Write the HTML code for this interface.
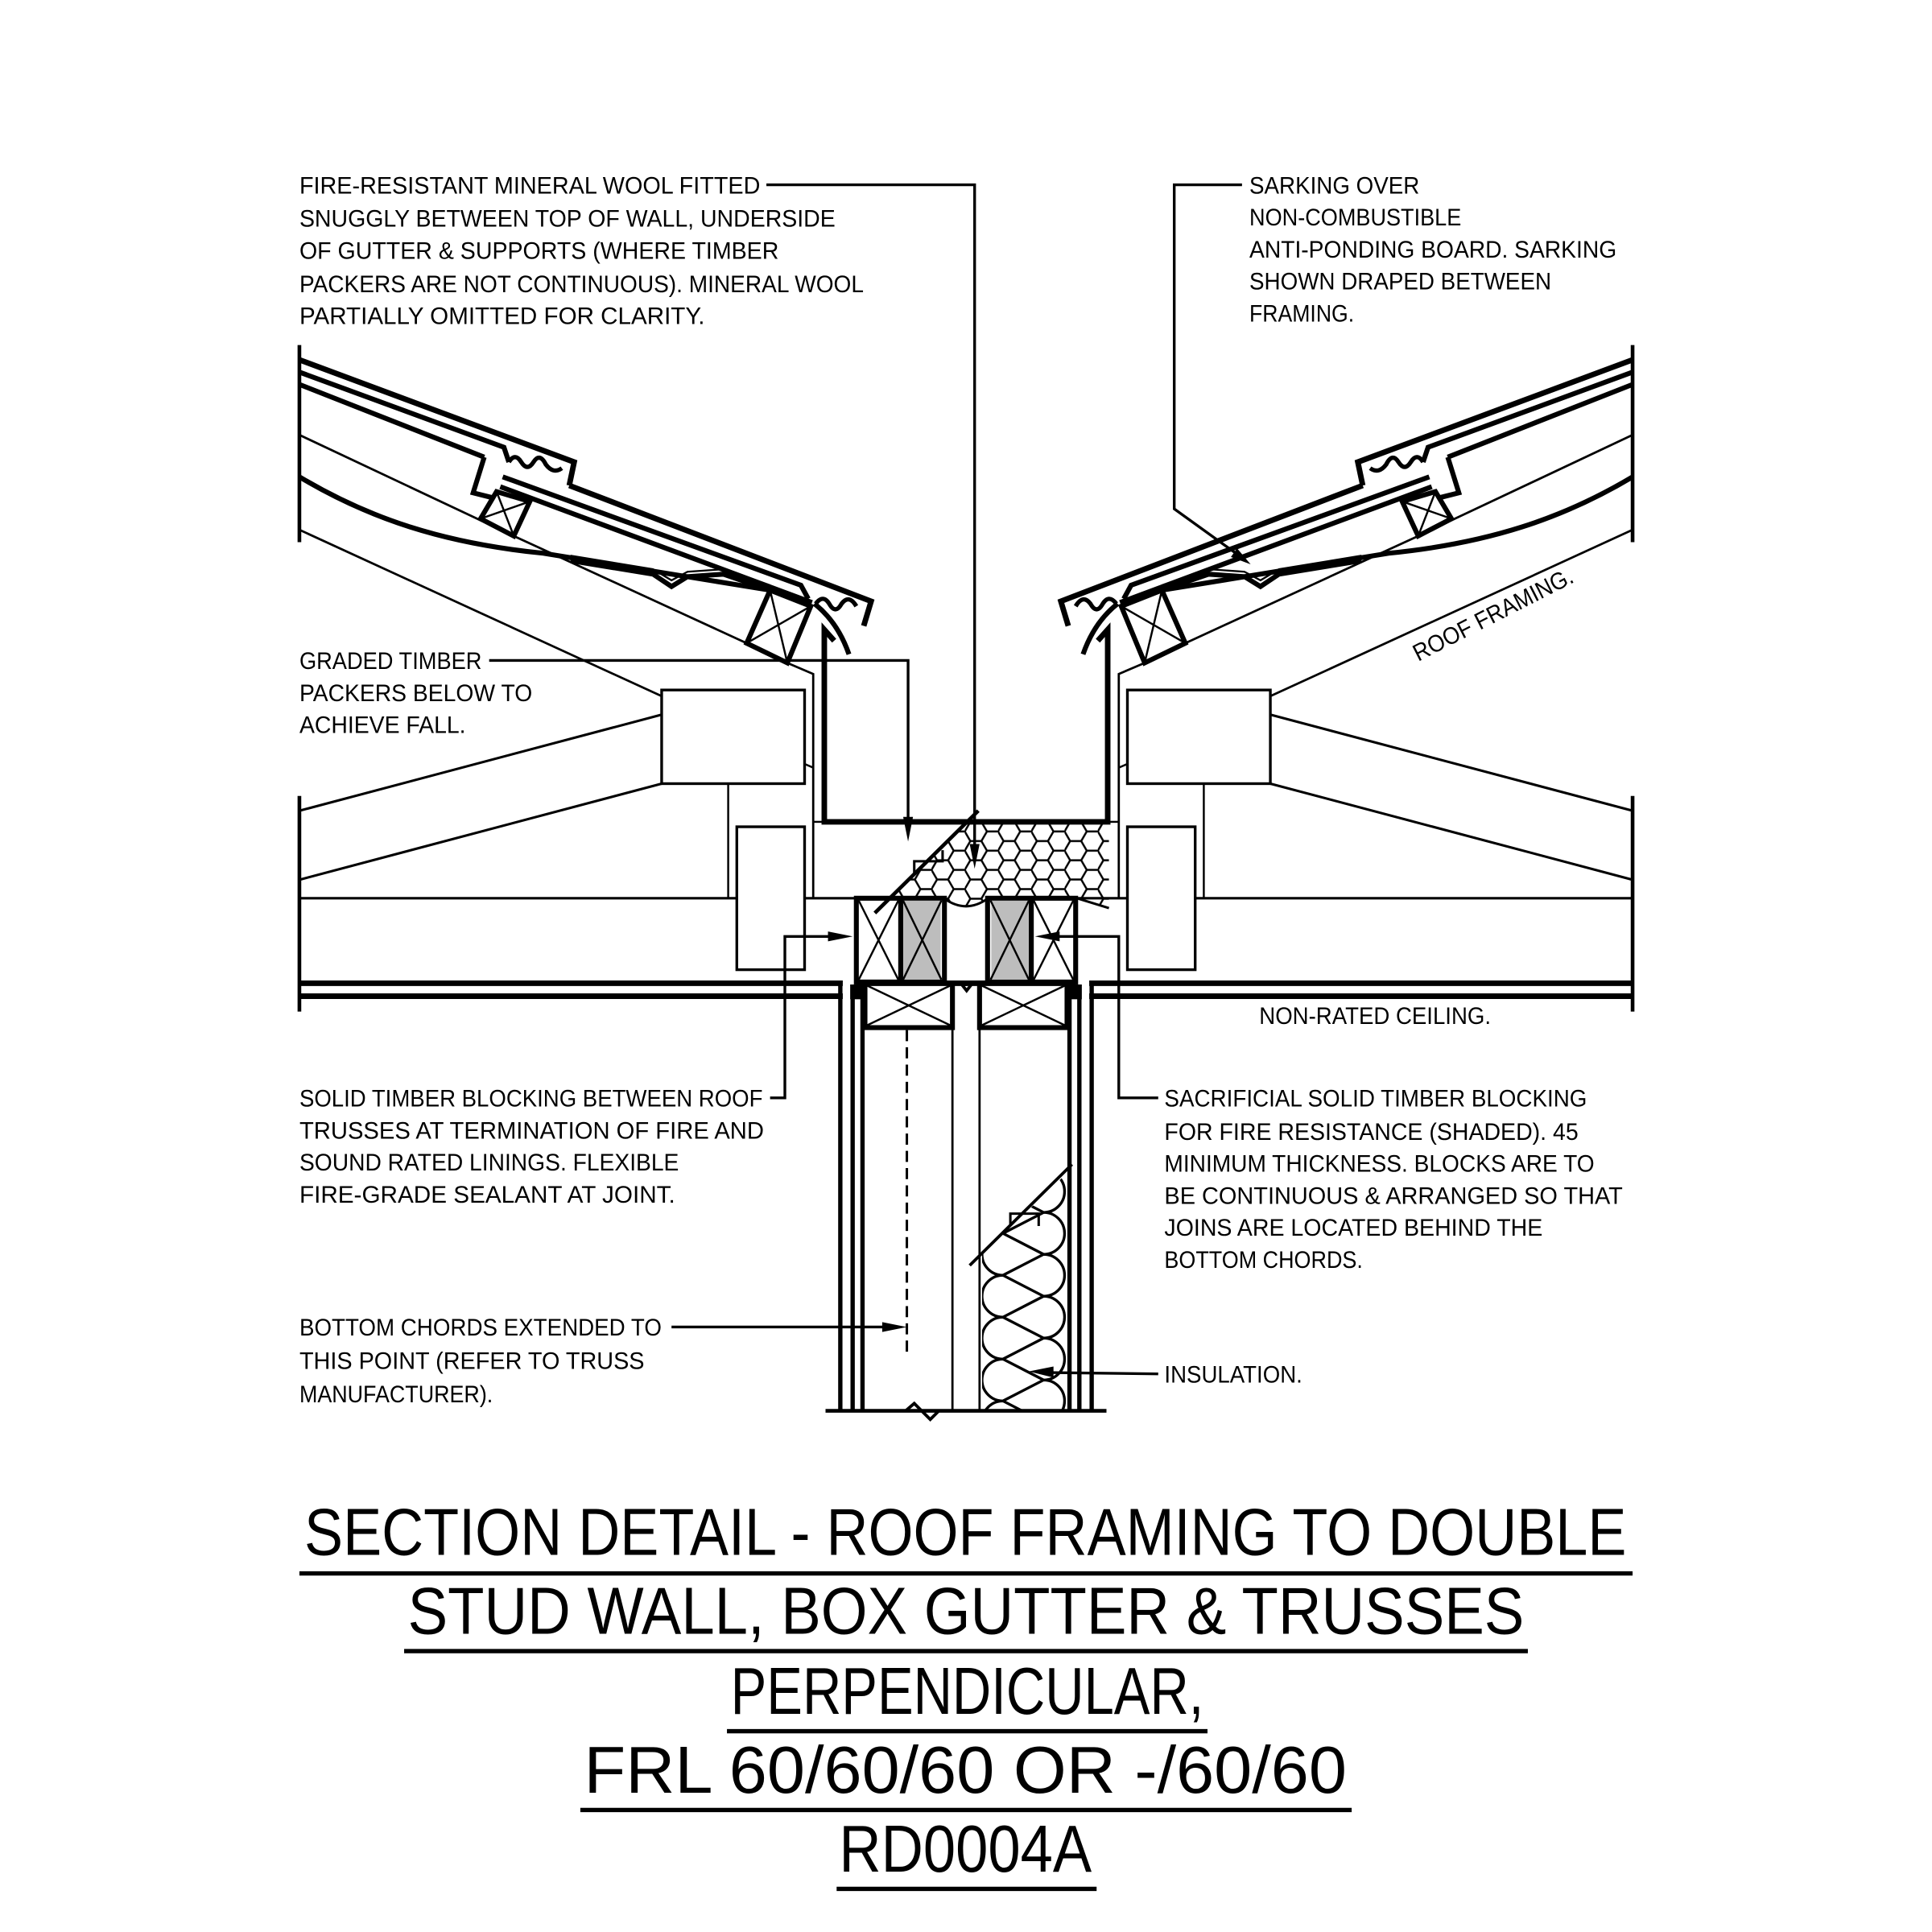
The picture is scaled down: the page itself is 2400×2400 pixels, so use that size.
<!DOCTYPE html>
<html><head><meta charset="utf-8"><style>
html,body{margin:0;padding:0;background:#fff;}
svg{display:block;}
text{font-family:"Liberation Sans",sans-serif;fill:#000;}
.t{font-size:19.5px;}
.h{font-size:54px;}
</style></head><body>
<svg width="2400" height="2400" viewBox="0 0 1568 1568" xmlns="http://www.w3.org/2000/svg">
<defs>
<pattern id="hex" patternUnits="userSpaceOnUse" width="27" height="15.6" x="0" y="667">
<path d="M0,7.8 L4.5,0 L13.5,0 L18,7.8 L13.5,15.6 L4.5,15.6 Z M18,7.8 L27,7.8" fill="none" stroke="#000" stroke-width="1.6"/>
</pattern>
<clipPath id="insclip"><polygon points="797,1018 866,952 866,1145 797,1145"/></clipPath>
<g id="half" fill="none" stroke="#000" stroke-linejoin="miter">
  <line x1="243" y1="280" x2="243" y2="440" stroke-width="3"/>
  <line x1="243" y1="646" x2="243" y2="821" stroke-width="3"/>
  <polyline points="243,292 466,375 462,394" stroke-width="4.5"/>
  <polyline points="462,394 707,488 701,508" stroke-width="4.5"/>
  <polyline points="243,302 409,363 413,375" stroke-width="4"/>
  <path d="M413,375 q5,-8 10,0 q5,8 10,0 q5,-8 10,2 q6,8 13,3" stroke-width="3.5"/>
  <line x1="243" y1="312" x2="393" y2="371" stroke-width="4"/>
  <polyline points="393,371 384,400 400,404" stroke-width="4"/>
  <polyline points="408,387 650,475 656,486" stroke-width="4"/>
  <line x1="406" y1="395" x2="659" y2="489" stroke-width="4"/>
  <path d="M662,490 q6,-8 11,0 q5,9 10,0 q6,-8 12,2" stroke-width="3.5"/>
  <polygon points="390,421 403,399 430,407 417,435" stroke-width="4"/>
  <line x1="390" y1="421" x2="430" y2="407" stroke-width="1.6"/>
  <line x1="403" y1="399" x2="417" y2="435" stroke-width="1.6"/>
  <polygon points="606,522 625,479 658,492 639,538" stroke-width="4"/>
  <line x1="606" y1="522" x2="658" y2="492" stroke-width="1.6"/>
  <line x1="625" y1="479" x2="639" y2="538" stroke-width="1.6"/>
  <line x1="243" y1="353" x2="417" y2="435" stroke-width="1.8"/>
  <line x1="417" y1="435" x2="606" y2="522" stroke-width="1.8"/>
  <polyline points="639,538 660,547 660,729" stroke-width="1.8"/>
  <line x1="243" y1="430" x2="537" y2="565" stroke-width="1.8"/>
  <path d="M243,387 C300,421 360,441 441,449 L625,479" stroke-width="4"/>
  <polyline points="463,455 530,466 545,476 558,468 587,466 625,479" stroke-width="4"/>
  <polyline points="463,451 530,462 545,471 558,464 587,462 625,475" stroke-width="1.5"/>
  <path d="M661,490 Q680,505 689,531" stroke-width="4"/>
  <polyline points="677,520 669,511 669,667 785,667" stroke-width="4.5"/>
  <rect x="537" y="560" width="116" height="76" stroke-width="2.2"/>
  <rect x="598" y="671" width="55" height="116" stroke-width="2.2"/>
  <line x1="591" y1="636" x2="591" y2="729" stroke-width="1.6"/>
  <line x1="653" y1="620" x2="660" y2="623" stroke-width="1.6"/>
  <line x1="660" y1="667" x2="669" y2="667" stroke-width="1.6"/>
  <line x1="243" y1="658" x2="537" y2="580" stroke-width="2"/>
  <line x1="243" y1="714" x2="537" y2="636" stroke-width="2"/>
  <line x1="243" y1="729" x2="598" y2="729" stroke-width="2"/>
  <line x1="653" y1="729" x2="695" y2="729" stroke-width="2"/>
  <line x1="243" y1="798" x2="684" y2="798" stroke-width="4.5"/>
  <line x1="243" y1="808.5" x2="684" y2="808.5" stroke-width="4.5"/>
  <rect x="695" y="729" width="71.5" height="68" fill="#fff" stroke-width="4"/>
  <rect x="732.5" y="731" width="31" height="64" fill="#bdbdbd" stroke="none"/>
  <line x1="731" y1="729" x2="731" y2="797" stroke-width="4"/>
  <line x1="697" y1="731" x2="729" y2="795" stroke-width="1.6"/>
  <line x1="729" y1="731" x2="697" y2="795" stroke-width="1.6"/>
  <line x1="733" y1="731" x2="764" y2="795" stroke-width="1.6"/>
  <line x1="764" y1="731" x2="733" y2="795" stroke-width="1.6"/>
  <line x1="695" y1="798" x2="785" y2="798" stroke-width="4.5"/>
  <rect x="702" y="798" width="71" height="36" stroke-width="4"/>
  <line x1="704" y1="800" x2="771" y2="832" stroke-width="1.6"/>
  <line x1="771" y1="800" x2="704" y2="832" stroke-width="1.6"/>
  <line x1="682" y1="800" x2="682" y2="1145" stroke-width="3.5"/>
  <line x1="692" y1="800" x2="692" y2="1145" stroke-width="3.5"/>
  <line x1="700" y1="800" x2="700" y2="1145" stroke-width="3.5"/>
  <rect x="690" y="799" width="12" height="12" fill="#000" stroke="none"/>
  <line x1="773" y1="834" x2="773" y2="1145" stroke-width="1.8"/>
</g>
</defs>

<use href="#half"/>
<use href="#half" transform="translate(1568,0) scale(-1,1)"/>

<path d="M714,737 L786,667 L900,667 L900,737 L874,729 L802,729 Q784,742 766,729 L722,729 Z" fill="url(#hex)" stroke="none"/>
<path d="M874,729 L900,737 M802,729 Q784,742 766,729" fill="none" stroke="#000" stroke-width="2"/>
<line x1="710" y1="741" x2="794" y2="658" stroke="#000" stroke-width="3"/>
<polyline points="742,709 742,699 765,699 765,690" fill="none" stroke="#000" stroke-width="2"/>
<polyline points="771,797 779,797 784.5,804 790,797 797,797" fill="none" stroke="#000" stroke-width="2.5"/>
<line x1="670" y1="1145" x2="898" y2="1145" stroke="#000" stroke-width="3"/>
<polyline points="735,1145 742,1139 755,1152 762,1145" fill="none" stroke="#000" stroke-width="2.5"/>
<line x1="736" y1="836" x2="736" y2="1098" stroke="#000" stroke-width="2" stroke-dasharray="9,5"/>
<g clip-path="url(#insclip)" fill="none" stroke="#000" stroke-width="2.2">
<path d="M847,950 A17 17 0 0 1 847,984 L814,967 A17 17 0 0 0 814,1001 L847,984 A17 17 0 0 1 847,1018 L814,1001 A17 17 0 0 0 814,1035 L847,1018 A17 17 0 0 1 847,1052 L814,1035 A17 17 0 0 0 814,1069 L847,1052 A17 17 0 0 1 847,1086 L814,1069 A17 17 0 0 0 814,1103 L847,1086 A17 17 0 0 1 847,1120 L814,1103 A17 17 0 0 0 814,1137 L847,1120 A17 17 0 0 1 847,1154 L814,1137 A17 17 0 0 0 814,1171"/>
</g>
<line x1="787" y1="1027" x2="870" y2="945" stroke="#000" stroke-width="2.5"/>
<polyline points="820,995 820,985 843,985 843,995" fill="none" stroke="#000" stroke-width="2"/>

<g fill="none" stroke="#000" stroke-width="2.2">
<polyline points="622,150 791,150 791,690"/>
<polyline points="1008,150 953,150 953,413 1003,449"/>
<polyline points="397,536 737,536 737,668"/>
<polyline points="625,891 637,891 637,760 676,760"/>
<polyline points="940,891 908,891 908,760 855,760"/>
<line x1="545" y1="1077" x2="720" y2="1077"/>
<line x1="940" y1="1115" x2="852" y2="1114"/>
</g>
<g fill="#000">
<polygon points="791,705 787,685 795,685"/>
<polygon points="1015,458 999,452 1004,445"/>
<polygon points="737,683 733,663 741,663"/>
<polygon points="692,760 672,756 672,764"/>
<polygon points="840,760 860,756 860,764"/>
<polygon points="736,1077 716,1073 716,1081"/>
<polygon points="835,1113 855,1109 855,1118"/>
</g>

<g class="t">
<text x="243" y="157" textLength="374" lengthAdjust="spacingAndGlyphs">FIRE-RESISTANT MINERAL WOOL FITTED</text>
<text x="243" y="184" textLength="435" lengthAdjust="spacingAndGlyphs">SNUGGLY BETWEEN TOP OF WALL, UNDERSIDE</text>
<text x="243" y="210" textLength="389" lengthAdjust="spacingAndGlyphs">OF GUTTER &amp; SUPPORTS (WHERE TIMBER</text>
<text x="243" y="237" textLength="458" lengthAdjust="spacingAndGlyphs">PACKERS ARE NOT CONTINUOUS). MINERAL WOOL</text>
<text x="243" y="263" textLength="329" lengthAdjust="spacingAndGlyphs">PARTIALLY OMITTED FOR CLARITY.</text>
<text x="1014" y="157" textLength="138" lengthAdjust="spacingAndGlyphs">SARKING OVER</text>
<text x="1014" y="183" textLength="172" lengthAdjust="spacingAndGlyphs">NON-COMBUSTIBLE</text>
<text x="1014" y="209" textLength="298" lengthAdjust="spacingAndGlyphs">ANTI-PONDING BOARD. SARKING</text>
<text x="1014" y="235" textLength="245" lengthAdjust="spacingAndGlyphs">SHOWN DRAPED BETWEEN</text>
<text x="1014" y="261" textLength="85" lengthAdjust="spacingAndGlyphs">FRAMING.</text>
<text x="243" y="543" textLength="148" lengthAdjust="spacingAndGlyphs">GRADED TIMBER</text>
<text x="243" y="569" textLength="189" lengthAdjust="spacingAndGlyphs">PACKERS BELOW TO</text>
<text x="243" y="595" textLength="135" lengthAdjust="spacingAndGlyphs">ACHIEVE FALL.</text>
<text x="0" y="0" textLength="143" lengthAdjust="spacingAndGlyphs" transform="translate(1151,537) rotate(-27)">ROOF FRAMING.</text>
<text x="1022" y="831" textLength="188" lengthAdjust="spacingAndGlyphs">NON-RATED CEILING.</text>
<text x="243" y="898" textLength="376" lengthAdjust="spacingAndGlyphs">SOLID TIMBER BLOCKING BETWEEN ROOF</text>
<text x="243" y="924" textLength="377" lengthAdjust="spacingAndGlyphs">TRUSSES AT TERMINATION OF FIRE AND</text>
<text x="243" y="950" textLength="308" lengthAdjust="spacingAndGlyphs">SOUND RATED LININGS. FLEXIBLE</text>
<text x="243" y="976" textLength="305" lengthAdjust="spacingAndGlyphs">FIRE-GRADE SEALANT AT JOINT.</text>
<text x="945" y="898" textLength="343" lengthAdjust="spacingAndGlyphs">SACRIFICIAL SOLID TIMBER BLOCKING</text>
<text x="945" y="925" textLength="336" lengthAdjust="spacingAndGlyphs">FOR FIRE RESISTANCE (SHADED). 45</text>
<text x="945" y="951" textLength="349" lengthAdjust="spacingAndGlyphs">MINIMUM THICKNESS. BLOCKS ARE TO</text>
<text x="945" y="977" textLength="372" lengthAdjust="spacingAndGlyphs">BE CONTINUOUS &amp; ARRANGED SO THAT</text>
<text x="945" y="1003" textLength="307" lengthAdjust="spacingAndGlyphs">JOINS ARE LOCATED BEHIND THE</text>
<text x="945" y="1029" textLength="161" lengthAdjust="spacingAndGlyphs">BOTTOM CHORDS.</text>
<text x="243" y="1084" textLength="294" lengthAdjust="spacingAndGlyphs">BOTTOM CHORDS EXTENDED TO</text>
<text x="243" y="1111" textLength="280" lengthAdjust="spacingAndGlyphs">THIS POINT (REFER TO TRUSS</text>
<text x="243" y="1138" textLength="157" lengthAdjust="spacingAndGlyphs">MANUFACTURER).</text>
<text x="945" y="1122" textLength="112" lengthAdjust="spacingAndGlyphs">INSULATION.</text>
</g>

<g class="h">
<text x="247" y="1262" textLength="1073" lengthAdjust="spacingAndGlyphs">SECTION DETAIL - ROOF FRAMING TO DOUBLE</text>
<text x="331" y="1326" textLength="906" lengthAdjust="spacingAndGlyphs">STUD WALL, BOX GUTTER &amp; TRUSSES</text>
<text x="593" y="1391" textLength="384" lengthAdjust="spacingAndGlyphs">PERPENDICULAR,</text>
<text x="474" y="1455" textLength="619" lengthAdjust="spacingAndGlyphs">FRL 60/60/60 OR -/60/60</text>
<text x="681" y="1519" textLength="205" lengthAdjust="spacingAndGlyphs">RD0004A</text>
</g>
<g stroke="#000" stroke-width="3.5">
<line x1="243" y1="1277" x2="1325" y2="1277"/>
<line x1="328" y1="1340" x2="1240" y2="1340"/>
<line x1="590" y1="1405" x2="980" y2="1405"/>
<line x1="471" y1="1469" x2="1097" y2="1469"/>
<line x1="679" y1="1533" x2="890" y2="1533"/>
</g>
</svg>
</body></html>
